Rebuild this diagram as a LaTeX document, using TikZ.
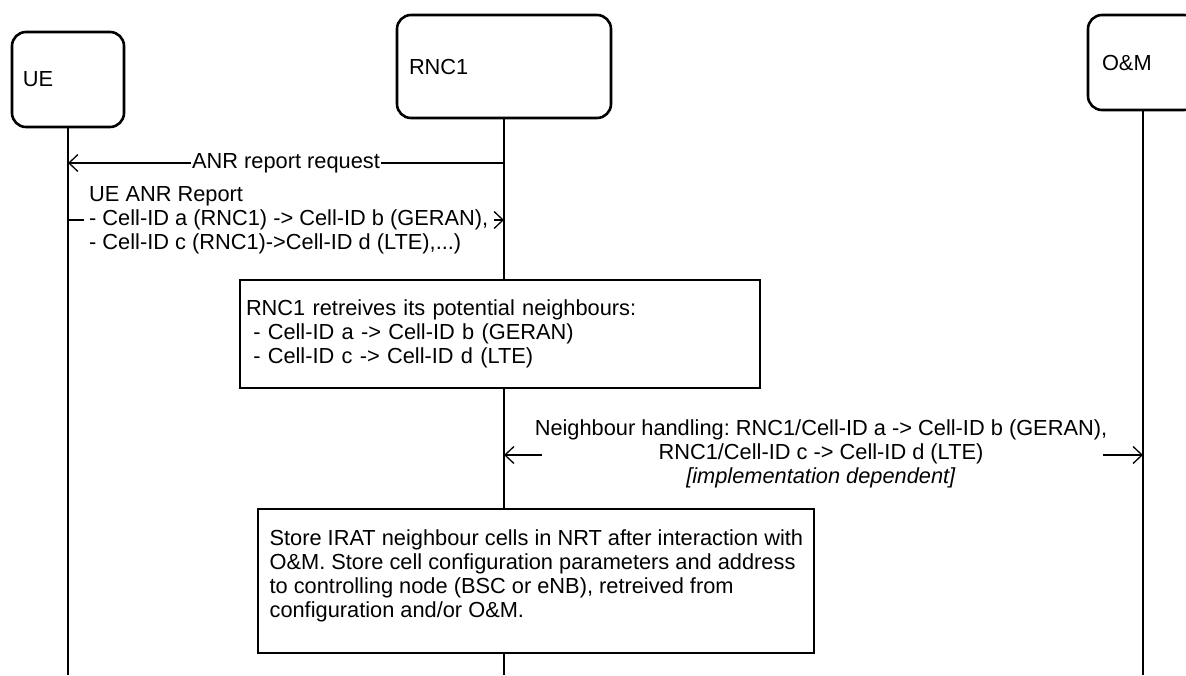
\documentclass[tikz,border=0pt]{standalone}
\usepackage{fontspec}
\setmainfont{Liberation Sans}
\usetikzlibrary{arrows.meta}
\frenchspacing

\tikzset{
  actor/.style={draw, line width=2.6pt, rounded corners=14pt, fill=white, align=left},
  note/.style={draw, line width=1.2pt, fill=white},
  life/.style={line width=1.2pt},
  msg/.style={line width=1.3pt},
  lbl/.style={fill=white, inner xsep=1pt, inner ysep=1pt},
}

\begin{document}
\begin{tikzpicture}[x=1pt, y=-1pt, font=\fontsize{21.8}{24}\selectfont,
  >={Straight Barb[length=9pt, width=17pt]}]
  \useasboundingbox (0,0) rectangle (1186,675);
  \clip (0,0) rectangle (1186,675);

  % entities and their lifelines
  \node[actor, minimum width=112pt, minimum height=95pt, text width=90pt, inner xsep=11pt]
    (ue) at (68,79.5) {UE};
  \node[actor, minimum width=214pt, minimum height=103pt, text width=190pt, inner xsep=12pt]
    (rnc) at (504,66.5) {RNC1};
  \node[actor, minimum width=110pt, minimum height=95pt, text width=82pt, inner xsep=14pt]
    (om) at (1143,62.5) {O\&M};

  \draw[life] (ue.south) -- (ue.south |- 0,675);
  \draw[life] (rnc.south) -- (rnc.south |- 0,675);
  \draw[life] (om.south) -- (om.south |- 0,675);

  % ANR report request
  \coordinate (reqR) at (504,163);
  \draw[msg,->] (reqR) -- node[lbl] {ANR report request} (ue.south |- reqR);

  % UE ANR report
  \node[anchor=west, align=left, inner xsep=5pt, inner ysep=1pt] (rep) at (84,220)
    {UE ANR Report\\ - Cell-ID a (RNC1) -> Cell-ID b (GERAN),\\ - Cell-ID c (RNC1)->Cell-ID d (LTE),...)};
  \draw[msg] (ue.south |- rep.west) -- (rep.west);
  \draw[msg,->] (rep.east) -- (rnc.south |- rep.east);

  % retrieval of neighbours
  \node[note, minimum width=520pt, minimum height=108pt, text width=508pt, inner xsep=6pt, align=left]
    (retr) at (500,334)
    {RNC1 retreives its potential neighbours:\\ \ - Cell-ID a -> Cell-ID b (GERAN)\\ \ - Cell-ID c -> Cell-ID d (LTE)};

  % neighbour handling towards O&M
  \node[align=center] (nh) at (821,454)
    {Neighbour handling: RNC1/Cell-ID a -> Cell-ID b (GERAN),\\ RNC1/Cell-ID c -> Cell-ID d (LTE)\\ \textit{[implementation dependent]}};
  \coordinate (nhL) at (542,455);
  \coordinate (nhR) at (1103,455);
  \draw[msg,->] (nhL) -- (rnc.south |- nhL);
  \draw[msg,->] (nhR) -- (om.south |- nhR);

  % storing in NRT
  \node[note, minimum width=556pt, minimum height=144pt] (store) at (536,581) {};
  \node[anchor=north west, align=left, inner sep=0pt] (storetxt) at ([xshift=12pt, yshift=-21pt]store.north west)
    {Store IRAT neighbour cells in NRT after interaction with\\ O\&M. Store cell configuration parameters and address\\ to controlling node (BSC or eNB), retreived from\\ configuration and/or O\&M.};
\end{tikzpicture}
\end{document}
